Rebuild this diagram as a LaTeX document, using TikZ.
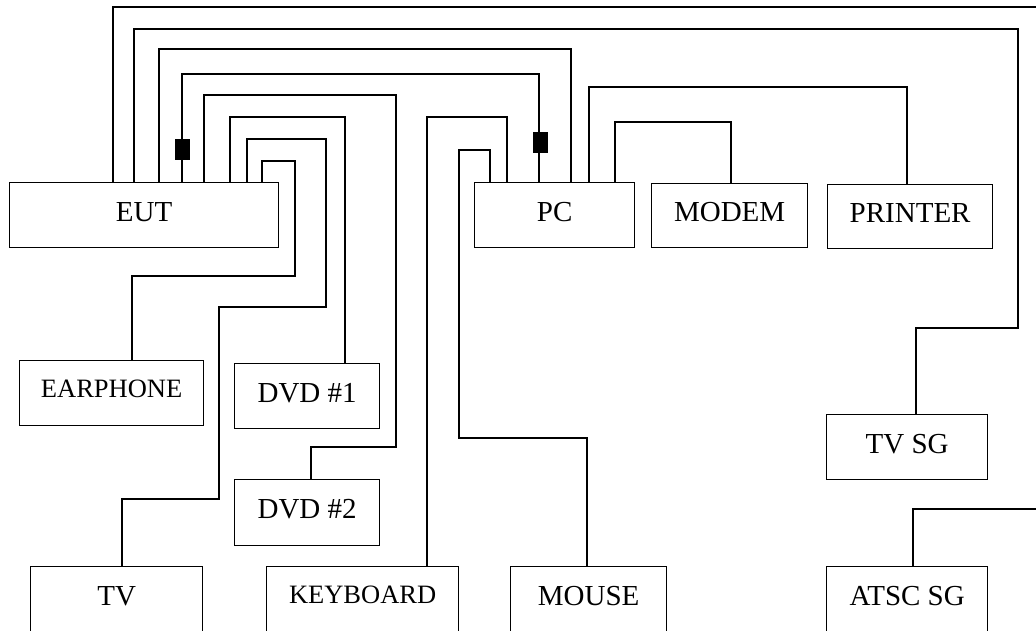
\documentclass[tikz,border=0pt]{standalone}
\usepackage{fontspec}
\setmainfont{Liberation Serif}
\begin{document}
\begin{tikzpicture}[x=1pt,y=-1pt,
  box/.style={draw,line width=1.3pt,rectangle,inner sep=0pt,anchor=north west,
    font=\fontsize{29}{31}\selectfont,text height=19.2pt,text depth=7pt},
  smallbox/.style={box,font=\fontsize{26.5}{30}\selectfont,text height=17.5pt,text depth=9pt},
  lowbox/.style={box,minimum height=80pt,text depth=22pt},
  wire/.style={line width=1.3pt},
  blk/.style={fill=black,draw=none,minimum width=15pt,minimum height=21pt,inner sep=0pt}]
\useasboundingbox (0,0) rectangle (1036,630);
% devices
\node[box,minimum width=269pt,minimum height=65pt] (eut) at (9,182) {EUT};
\node[box,minimum width=160pt,minimum height=65pt] (pc) at (474,182) {PC};
\node[box,minimum width=156pt,minimum height=64pt] (modem) at (651,183) {MODEM};
\node[box,minimum width=165pt,minimum height=64pt] (printer) at (827,184) {PRINTER};
\node[smallbox,minimum width=184pt,minimum height=65pt] (earphone) at (19,360) {EARPHONE};
\node[box,minimum width=145pt,minimum height=65pt] (dvd1) at (234,363) {DVD \#1};
\node[box,minimum width=145pt,minimum height=66pt] (dvd2) at (234,479) {DVD \#2};
\node[box,minimum width=161pt,minimum height=65pt] (tvsg) at (826,414) {TV SG};
\node[lowbox,minimum width=172pt] (tv) at (30,566) {TV};
\node[lowbox,font=\fontsize{26.5}{30}\selectfont,text height=17.5pt,text depth=24pt,minimum width=192pt] (keyboard) at (266,566) {KEYBOARD};
\node[lowbox,minimum width=156pt] (mouse) at (510,566) {MOUSE};
\node[lowbox,minimum width=161pt] (atsc) at (826,566) {ATSC SG};
% free ends at the right edge
\coordinate (edgeA) at (1040,7);
\coordinate (edgeB) at (1040,509);
% wires from EUT
\draw[wire] ([xshift=104pt]eut.north west) |- (edgeA);
\draw[wire] ([xshift=125pt]eut.north west) -- ++(0,-153) -- (1018,29) -- (1018,328) -| ([xshift=90pt]tvsg.north west);
\draw[wire] ([xshift=150pt]eut.north west) -- ++(0,-133) -| ([xshift=97pt]pc.north west);
\draw[wire] ([xshift=173pt]eut.north west) -- ++(0,-108) -| ([xshift=65pt]pc.north west);
\draw[wire] ([xshift=195pt]eut.north west) -- ++(0,-87) -- (396,95) -- (396,447) -| ([xshift=77pt]dvd2.north west);
\draw[wire] ([xshift=221pt]eut.north west) -- ++(0,-65) -| ([xshift=111pt]dvd1.north west);
\draw[wire] ([xshift=238pt]eut.north west) -- ++(0,-43) -- (326,139) -- (326,307) -- (219,307) -- (219,499) -| ([xshift=92pt]tv.north west);
\draw[wire] ([xshift=253pt]eut.north west) -- ++(0,-21) -- (295,161) -- (295,276) -| ([xshift=113pt]earphone.north west);
% wires from PC
\draw[wire] ([xshift=16pt]pc.north west) -- ++(0,-32) -- (459,150) -- (459,438) -| ([xshift=77pt]mouse.north west);
\draw[wire] ([xshift=33pt]pc.north west) -- ++(0,-65) -| ([xshift=161pt]keyboard.north west);
\draw[wire] ([xshift=115pt]pc.north west) -- ++(0,-95) -| ([xshift=80pt]printer.north west);
\draw[wire] ([xshift=141pt]pc.north west) -- ++(0,-60) -| ([xshift=80pt]modem.north west);
% ATSC SG wire
\draw[wire] ([xshift=87pt]atsc.north west) |- (edgeB);
% ferrite blocks
\node[blk] (f1) at (182.5,149.5) {};
\node[blk] (f2) at (540.5,142.5) {};
\end{tikzpicture}
\end{document}
